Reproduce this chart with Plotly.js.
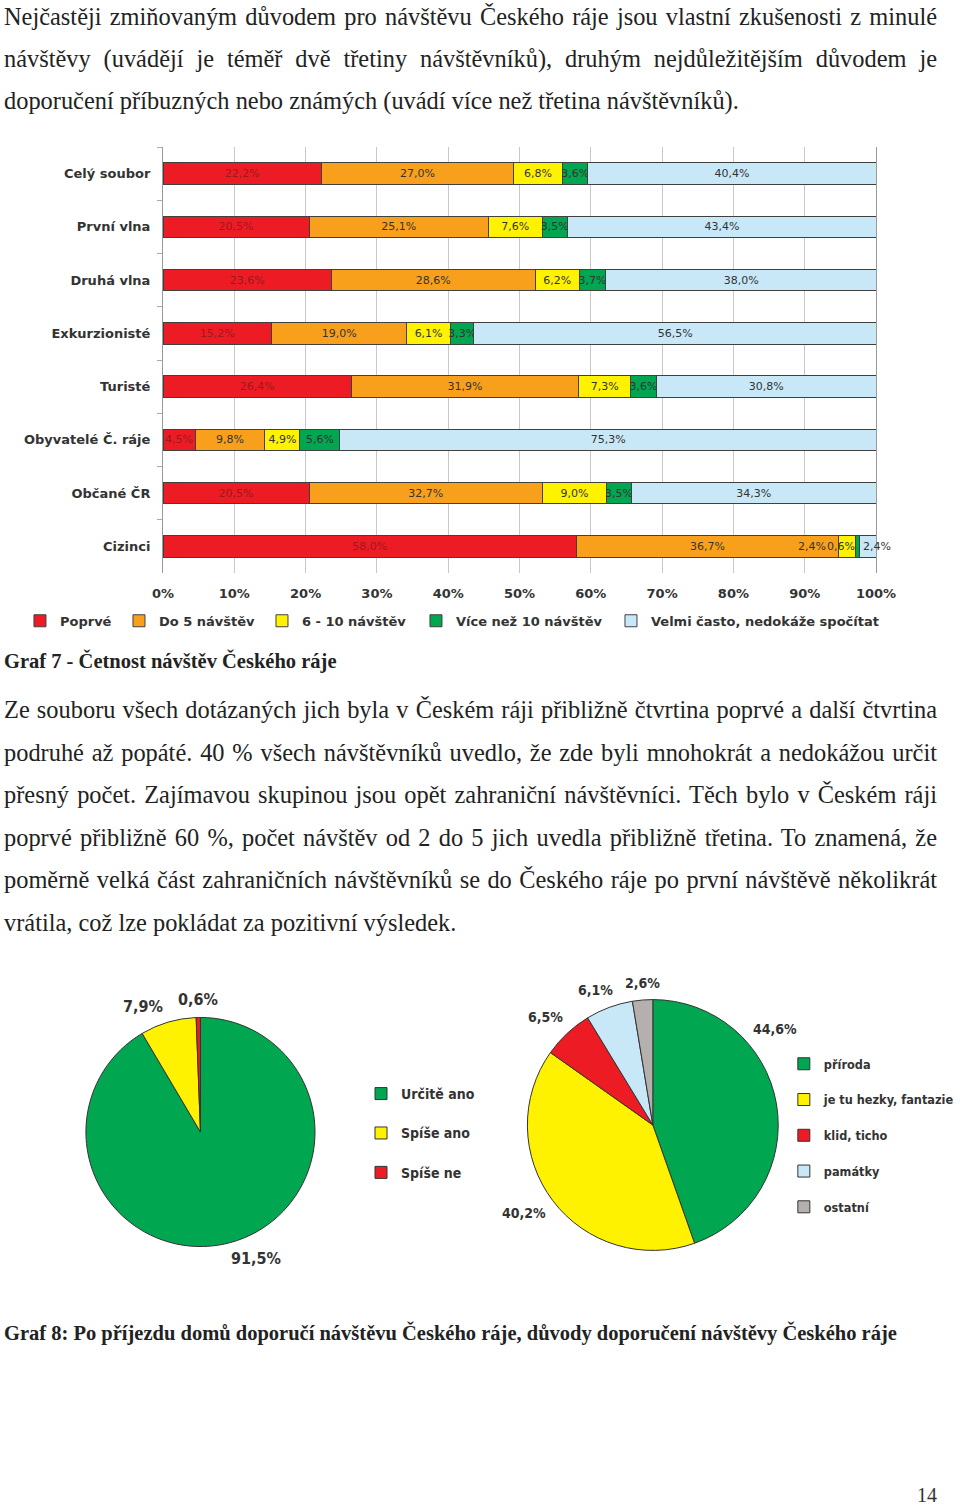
<!DOCTYPE html>
<html lang="cs">
<head>
<meta charset="utf-8">
<script src="https://cdn.plot.ly/plotly-3.0.1.min.js"></script>
<style>
  html, body { margin: 0; padding: 0; background: #fff; }
  #page { position: relative; width: 960px; height: 1505px; overflow: hidden; background: #fff; }
  .para { position: absolute; left: 4px; width: 933px; font-family: "Liberation Serif", "Times New Roman", serif; font-size: 24.4px; letter-spacing: 0; color: #222; }
  .para div { white-space: nowrap; text-align: justify; text-align-last: justify; }
  .para div.last { text-align-last: left; }
  .cap { position: absolute; left: 4px; font-family: "Liberation Serif", "Times New Roman", serif; font-weight: bold; font-size: 20.5px; line-height: 22px; color: #222; white-space: nowrap; }
  #pno { position: absolute; left: 917px; top: 1487px; font-family: "Liberation Serif", serif; font-size: 20px; line-height: 17px; color: #333; }
  #bar { position: absolute; left: 0; top: 130px; width: 960px; height: 520px; }
  #pie1 { position: absolute; left: 0; top: 960px; width: 480px; height: 340px; }
  #pie2 { position: absolute; left: 480px; top: 960px; width: 480px; height: 340px; }
</style>
</head>
<body>
<div id="page">
  <div class="para" style="top:-4px; line-height:42px;">
    <div>Nejčastěji zmiňovaným důvodem pro návštěvu Českého ráje jsou vlastní zkušenosti z minulé</div>
    <div>návštěvy (uvádějí je téměř dvě třetiny návštěvníků), druhým nejdůležitějším důvodem je</div>
    <div class="last">doporučení příbuzných nebo známých (uvádí více než třetina návštěvníků).</div>
  </div>
  <div id="bar"></div>
  <div class="cap" style="top:650px;">Graf 7 - Četnost návštěv Českého ráje</div>
  <div class="para" style="top:689px; line-height:42.6px;">
    <div>Ze souboru všech dotázaných jich byla v Českém ráji přibližně čtvrtina poprvé a další čtvrtina</div>
    <div>podruhé až popáté. 40 % všech návštěvníků uvedlo, že zde byli mnohokrát a nedokážou určit</div>
    <div>přesný počet. Zajímavou skupinou jsou opět zahraniční návštěvníci. Těch bylo v Českém ráji</div>
    <div>poprvé přibližně 60 %, počet návštěv od 2 do 5 jich uvedla přibližně třetina. To znamená, že</div>
    <div>poměrně velká část zahraničních návštěvníků se do Českého ráje po první návštěvě několikrát</div>
    <div class="last">vrátila, což lze pokládat za pozitivní výsledek.</div>
  </div>
  <div id="pie1"></div>
  <div id="pie2"></div>
  <div class="cap" style="top:1322px;">Graf 8: Po příjezdu domů doporučí návštěvu Českého ráje, důvody doporučení návštěvy Českého ráje</div>
  <div id="pno">14</div>
</div>
<script>
// ---- Graf 7 data ----
const categories = ['Celý soubor', 'První vlna', 'Druhá vlna', 'Exkurzionisté', 'Turisté', 'Obyvatelé Č. ráje', 'Občané ČR', 'Cizinci'];
const seriesNames = ['Poprvé', 'Do 5 návštěv', '6 - 10 návštěv', 'Více než 10 návštěv', 'Velmi často, nedokáže spočítat'];
const poprve      = [22.2, 20.5, 23.6, 15.2, 26.4, 4.5, 20.5, 58.0];
const do5         = [27.0, 25.1, 28.6, 19.0, 31.9, 9.8, 32.7, 36.7];
const od6do10     = [6.8, 7.6, 6.2, 6.1, 7.3, 4.9, 9.0, 2.4];
const vice10      = [3.6, 3.5, 3.7, 3.3, 3.6, 5.6, 3.5, 0.6];
const velmiCasto  = [40.4, 43.4, 38.0, 56.5, 30.8, 75.3, 34.3, 2.4];
const xTicks = [0, 10, 20, 30, 40, 50, 60, 70, 80, 90, 100];
const xTickLabels = ['0%', '10%', '20%', '30%', '40%', '50%', '60%', '70%', '80%', '90%', '100%'];

// ---- Graf 8 data ----
const pie1Labels = ['Určitě ano', 'Spíše ano', 'Spíše ne'];
const pie1Values = [91.5, 7.9, 0.6];
const pie2Labels = ['příroda', 'je tu hezky, fantazie', 'klid, ticho', 'památky', 'ostatní'];
const pie2Values = [44.6, 40.2, 6.5, 6.1, 2.6];

// ---- styles / layout settings ----
const barColors = ['#ed1c24', '#f8a01c', '#fff200', '#00a650', '#c8e8f8'];
const barTextColors = ['#9a1a1e', '#333', '#333', '#333', '#333'];
const legendWidths = [54, 98, 109, 150, null];
const pie1Colors = ['#00a650', '#fff200', '#ed1c24'];
const pie2Colors = ['#00a650', '#fff200', '#ed1c24', '#c8e8f8', '#b5b0ae'];
// value-label positions (paper fractions) of the pie labels, as placed in the source
const pie1LabelPos = [[0.5396, 0.1206], [0.302, 0.8647], [0.4167, 0.8824]];
const pie2LabelPos = [[0.6229, 0.797], [0.0938, 0.2559], [0.1375, 0.8324], [0.2438, 0.9118], [0.3438, 0.9324]];

const fmt = v => v.toFixed(1).replace('.', ',') + '%';
const seriesData = [poprve, do5, od6do10, vice10, velmiCasto];
const lastIdx = categories.length - 1;

const barTraces = seriesData.map((vals, i) => {
  const t = {
    type: 'bar',
    orientation: 'h',
    name: seriesNames[i],
    y: categories,
    x: vals,
    marker: { color: barColors[i], line: { color: '#404040', width: 1 } },
    texttemplate: '%{x:.1f}%',
    textposition: vals.map((v, j) => (i >= 2 && j === lastIdx) ? 'none' : 'inside'),
    insidetextanchor: 'middle',
    constraintext: 'none',
    textangle: 0,
    textfont: { family: 'DejaVu Sans, Verdana, sans-serif', size: 11, color: barTextColors[i] },
    hoverinfo: 'skip'
  };
  if (legendWidths[i]) t.legendwidth = legendWidths[i];
  return t;
});

// labels of the thin Cizinci segments, placed next to the segments like in the source
const cStartYellow = poprve[lastIdx] + do5[lastIdx];
const cStartGreen = cStartYellow + od6do10[lastIdx];
const cStartBlue = cStartGreen + vice10[lastIdx];
const annFont = { family: 'DejaVu Sans, Verdana, sans-serif', size: 11, color: '#333' };
const barAnnotations = [
  { x: cStartYellow, y: categories[lastIdx], text: fmt(od6do10[lastIdx]), xanchor: 'right', xshift: -10 },
  { x: cStartGreen, y: categories[lastIdx], text: fmt(vice10[lastIdx]), xanchor: 'right', xshift: 2 },
  { x: cStartBlue, y: categories[lastIdx], text: fmt(velmiCasto[lastIdx]), xanchor: 'left', xshift: 1 }
].map(a => Object.assign({ xref: 'x', yref: 'y', showarrow: false, yanchor: 'middle', font: annFont }, a));

const boldFont = { family: 'DejaVu Sans, Verdana, sans-serif', size: 13, color: '#333', weight: 'bold' };

const barLayout = {
  width: 960, height: 520,
  margin: { l: 163, r: 84, t: 17, b: 77 },
  paper_bgcolor: '#fff', plot_bgcolor: '#fff',
  barmode: 'stack',
  bargap: 0.6,
  separators: ', ',
  showlegend: true,
  xaxis: {
    range: [0, 100], tickvals: xTicks, ticktext: xTickLabels,
    showgrid: true, gridcolor: '#c8c8c8', gridwidth: 1,
    zeroline: false, showline: false, ticks: '',
    tickfont: boldFont, ticklabelstandoff: 11, fixedrange: true
  },
  yaxis: {
    type: 'category', autorange: 'reversed',
    showline: true, linecolor: '#999', linewidth: 1, mirror: true,
    ticks: 'outside', tickson: 'boundaries', ticklen: 5, tickcolor: '#aaa',
    showgrid: false, zeroline: false,
    tickfont: boldFont, ticklabelstandoff: 9, fixedrange: true
  },
  legend: {
    orientation: 'h', xref: 'paper', yref: 'paper',
    x: -0.2006, y: -0.077, xanchor: 'left', yanchor: 'top',
    traceorder: 'normal', font: boldFont, itemclick: false,
    bgcolor: 'rgba(0,0,0,0)'
  },
  annotations: barAnnotations
};

Plotly.newPlot('bar', barTraces, barLayout, { staticPlot: true, displayModeBar: false });

// ---- pies ----
const legendText = l => l + '<br>\u00a0';
const condFont = 'DejaVu Sans Condensed, DejaVu Sans, Liberation Sans, sans-serif';

function pieTrace(labels, values, colors, domain) {
  return {
    type: 'pie',
    labels: labels.map(legendText),
    values: values,
    sort: false,
    direction: 'clockwise',
    rotation: 0,
    marker: { colors: colors, line: { color: '#333', width: 1 } },
    textinfo: 'none',
    domain: domain,
    hoverinfo: 'skip'
  };
}

function pieAnnotations(values, pos, size) {
  return values.map((v, i) => ({
    xref: 'paper', yref: 'paper', x: pos[i][0], y: pos[i][1],
    xanchor: 'center', yanchor: 'middle', showarrow: false,
    text: fmt(v),
    font: { family: condFont, size: size, color: '#333', weight: 'bold' }
  }));
}

Plotly.newPlot('pie1', [pieTrace(pie1Labels, pie1Values, pie1Colors, { x: [0.18125, 0.66458], y: [0.1529, 0.8353] })], {
  width: 480, height: 340,
  margin: { l: 0, r: 0, t: 0, b: 0 },
  paper_bgcolor: '#fff',
  showlegend: true,
  legend: {
    x: 0.762, y: 0.653, xanchor: 'left', yanchor: 'top', valign: 'top',
    bgcolor: 'rgba(0,0,0,0)',
    font: { family: condFont, size: 14, color: '#333', weight: 'bold' }
  },
  annotations: pieAnnotations(pie1Values, pie1LabelPos, 16)
}, { staticPlot: true, displayModeBar: false });

Plotly.newPlot('pie2', [pieTrace(pie2Labels, pie2Values, pie2Colors, { x: [0.1, 0.6292], y: [0.1412, 0.8882] })], {
  width: 480, height: 340,
  margin: { l: 0, r: 0, t: 0, b: 0 },
  paper_bgcolor: '#fff',
  showlegend: true,
  legend: {
    x: 0.641, y: 0.738, xanchor: 'left', yanchor: 'top', valign: 'top',
    bgcolor: 'rgba(0,0,0,0)',
    font: { family: condFont, size: 12.6, color: '#333', weight: 'bold' }
  },
  annotations: pieAnnotations(pie2Values, pie2LabelPos, 14)
}, { staticPlot: true, displayModeBar: false });
</script>
</body>
</html>
